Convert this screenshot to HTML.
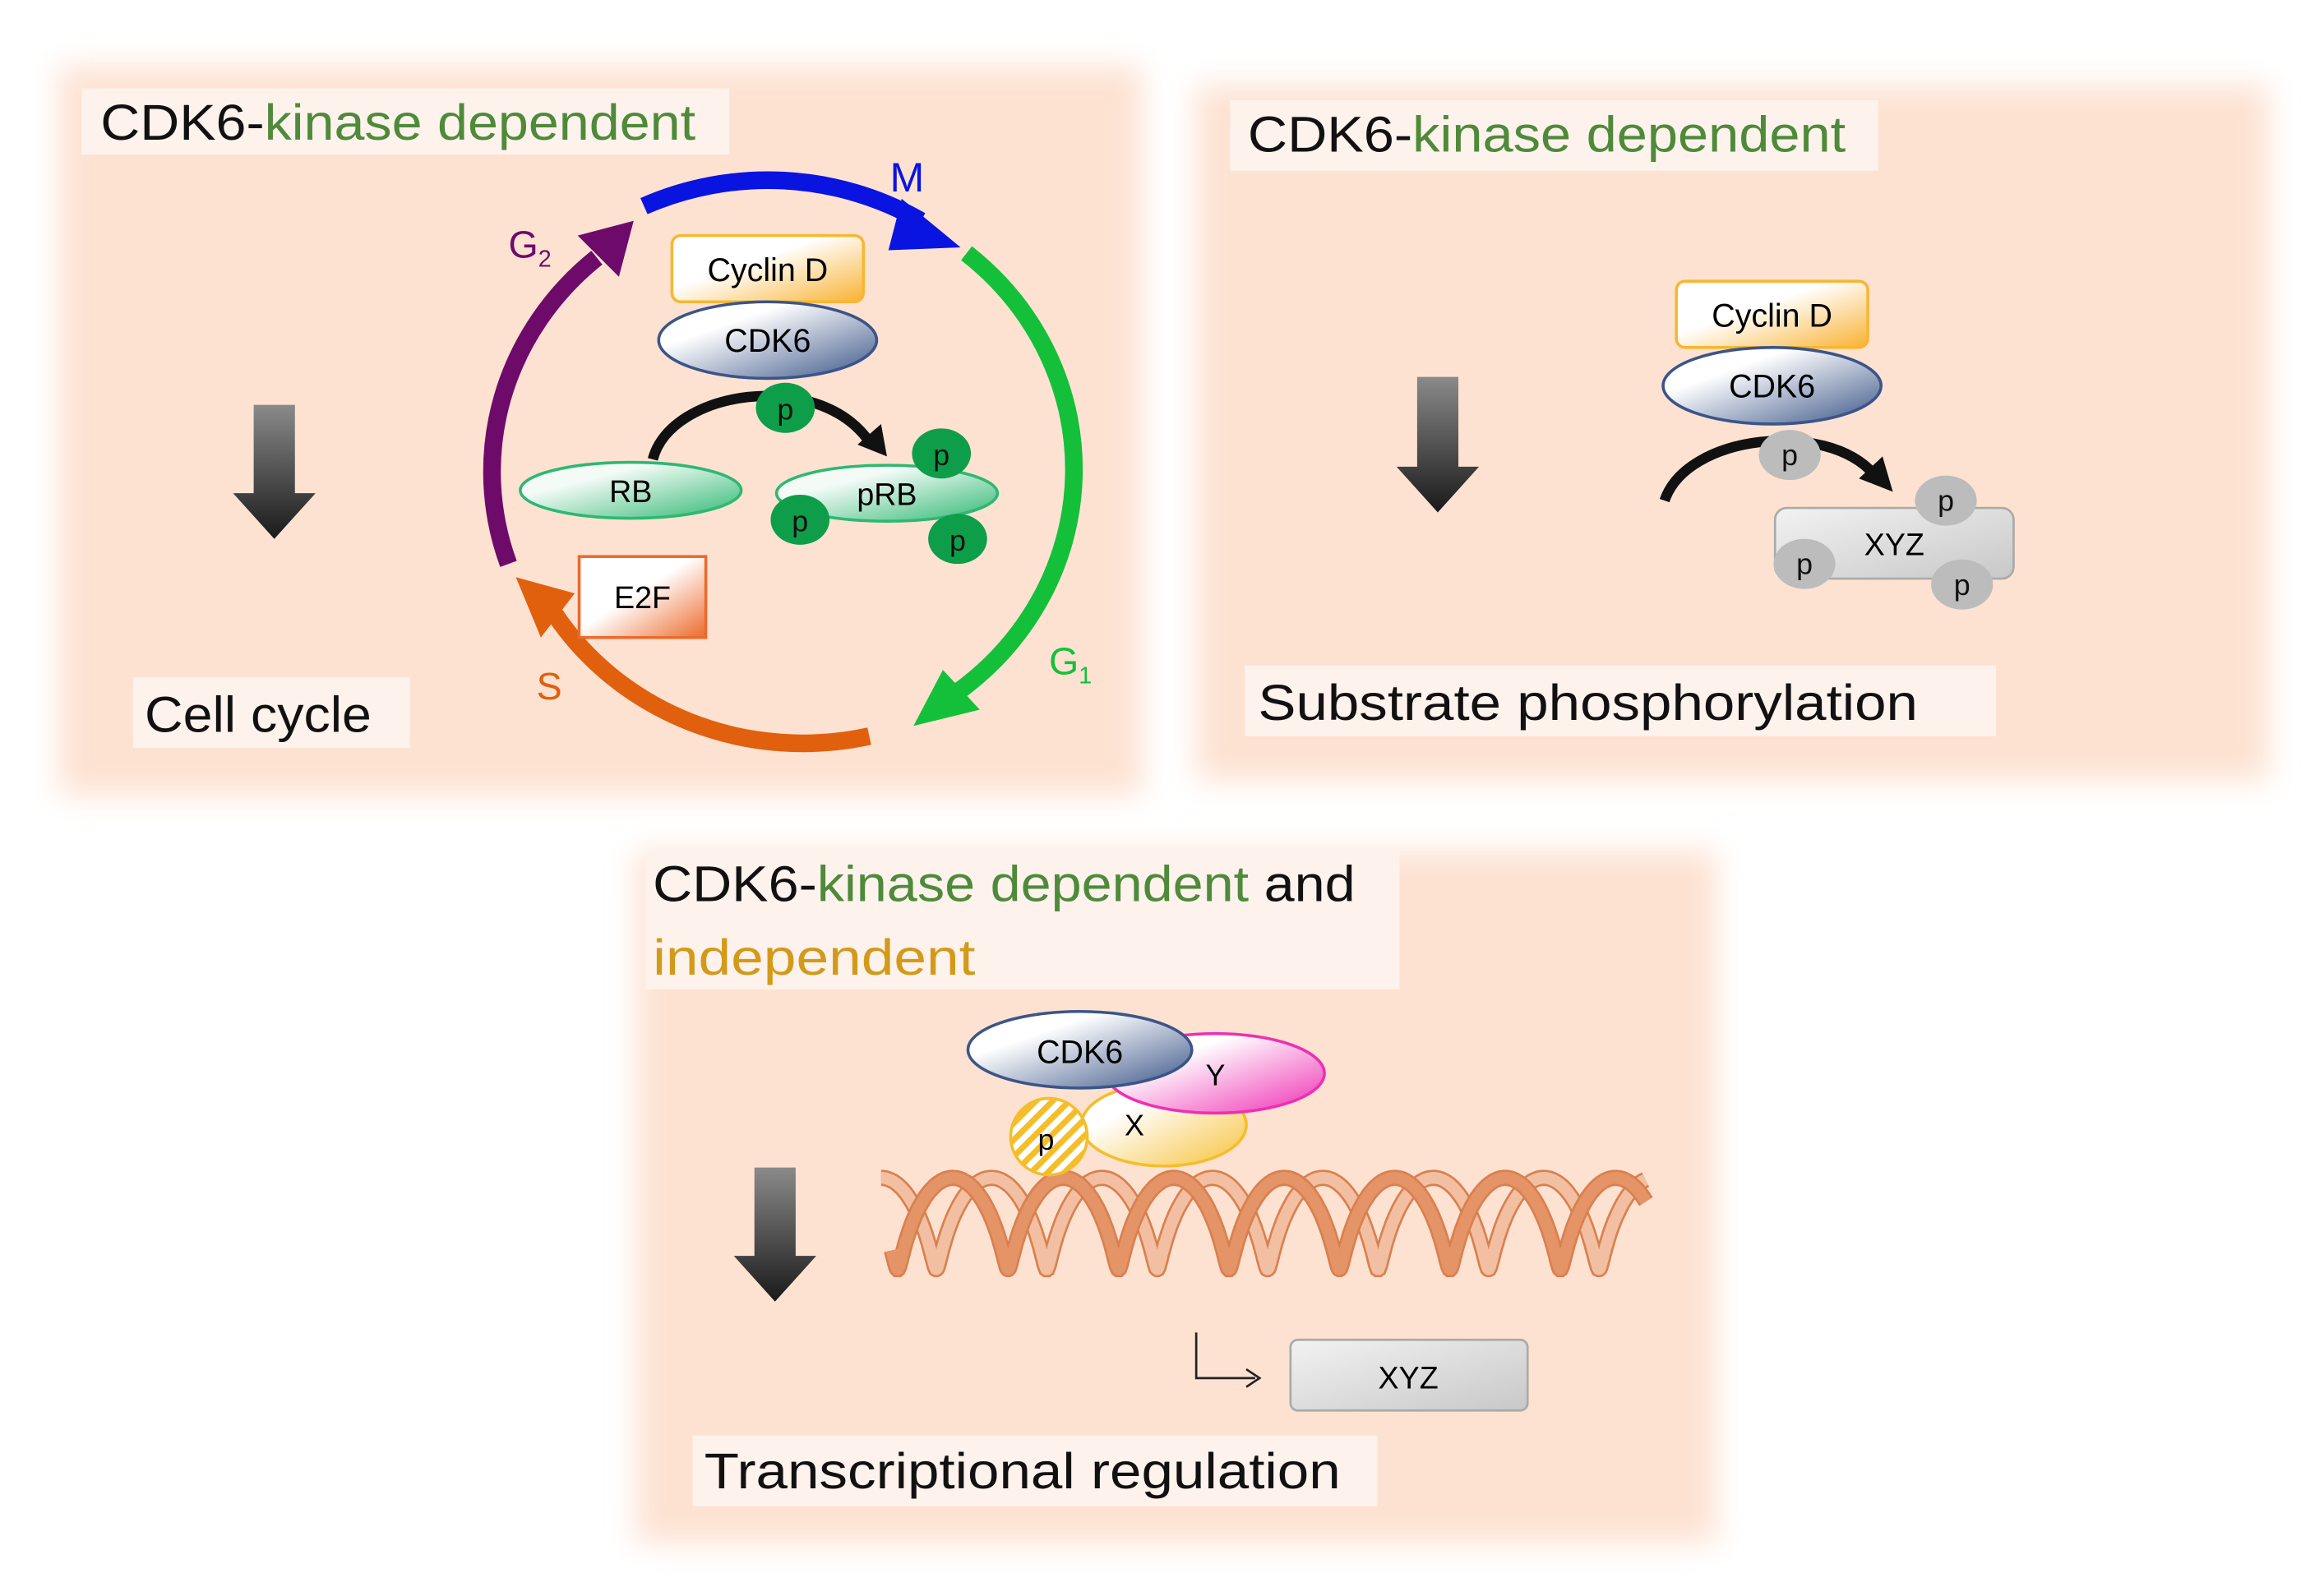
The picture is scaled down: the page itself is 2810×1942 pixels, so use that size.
<!DOCTYPE html>
<html><head><meta charset="utf-8"><style>
html,body{margin:0;padding:0;background:#fff;}
svg{display:block;}
text{font-family:"Liberation Sans",sans-serif;}
</style></head><body>
<svg id="s" width="2810" height="1942" viewBox="0 0 1568 1084" xmlns="http://www.w3.org/2000/svg">
<defs>
<filter id="blur" x="-10%" y="-10%" width="120%" height="120%"><feGaussianBlur stdDeviation="10"/></filter>
<linearGradient id="arrowG" x1="0" y1="0" x2="0" y2="1"><stop offset="0" stop-color="#8a8a8a"/><stop offset="1" stop-color="#1a1a1a"/></linearGradient>
<linearGradient id="cyc" x1="0" y1="0" x2="1" y2="1"><stop offset="0.4" stop-color="#fff"/><stop offset="1" stop-color="#f9b233"/></linearGradient>
<linearGradient id="cdk" x1="0" y1="0" x2="1" y2="1"><stop offset="0.3" stop-color="#fff"/><stop offset="1" stop-color="#3b5588"/></linearGradient>
<linearGradient id="rb" x1="0" y1="0" x2="1" y2="1"><stop offset="0.3" stop-color="#f4fbf7"/><stop offset="1" stop-color="#2eb872"/></linearGradient>
<linearGradient id="e2f" x1="0" y1="0" x2="1" y2="1"><stop offset="0.45" stop-color="#fff"/><stop offset="1" stop-color="#ec6a2c"/></linearGradient>
<linearGradient id="grey" x1="0" y1="0" x2="1" y2="1"><stop offset="0" stop-color="#f2f2f2"/><stop offset="1" stop-color="#c8c8c8"/></linearGradient>
<linearGradient id="yG" x1="0" y1="0" x2="1" y2="1"><stop offset="0.3" stop-color="#fff"/><stop offset="1" stop-color="#ee2fb4"/></linearGradient>
<linearGradient id="xG" x1="0" y1="0" x2="1" y2="1"><stop offset="0.3" stop-color="#fff"/><stop offset="1" stop-color="#f7c23a"/></linearGradient>
<pattern id="hatch" width="8" height="8" patternUnits="userSpaceOnUse" patternTransform="rotate(45)"><rect width="8" height="8" fill="#fff"/><rect width="4" height="8" fill="#f4be2a"/></pattern>
</defs>
<g filter="url(#blur)" fill="#fde2d2">
<rect x="40" y="45" width="735" height="495"/>
<rect x="812" y="58" width="728" height="472"/>
<rect x="432" y="578" width="733" height="470"/>
</g>
<g fill="#fdf2ec">
<rect x="55" y="60" width="440" height="45"/>
<rect x="90" y="460" width="188" height="48"/>
<rect x="835" y="68" width="440" height="48"/>
<rect x="845" y="452" width="510" height="48"/>
<rect x="438" y="578" width="512" height="94"/>
<rect x="470" y="975" width="465" height="48"/>
</g>
<text x="68" y="95" font-size="34" textLength="404" lengthAdjust="spacingAndGlyphs"><tspan fill="#111">CDK6-</tspan><tspan fill="#4e8a3a">kinase dependent</tspan></text>
<text x="847" y="103" font-size="34" textLength="406" lengthAdjust="spacingAndGlyphs"><tspan fill="#111">CDK6-</tspan><tspan fill="#4e8a3a">kinase dependent</tspan></text>
<text x="443" y="612" font-size="34" textLength="477" lengthAdjust="spacingAndGlyphs"><tspan fill="#111">CDK6-</tspan><tspan fill="#4e8a3a">kinase dependent</tspan><tspan fill="#111"> and</tspan></text>
<text x="443" y="662" font-size="34" fill="#d39a1a" textLength="219" lengthAdjust="spacingAndGlyphs">independent</text>
<text x="98" y="497" font-size="34" fill="#111" textLength="154" lengthAdjust="spacingAndGlyphs">Cell cycle</text>
<text x="854" y="489" font-size="34" fill="#111" textLength="448" lengthAdjust="spacingAndGlyphs">Substrate phosphorylation</text>
<text x="478" y="1011" font-size="34" fill="#111" textLength="432" lengthAdjust="spacingAndGlyphs">Transcriptional regulation</text>
<polygon points="172,275 200,275 200,335 214,335 186,366 158,335 172,335" fill="url(#arrowG)"/>
<polygon points="962,256 990,256 990,317 1004,317 976,348 948,317 962,317" fill="url(#arrowG)"/>
<polygon points="512,793 540,793 540,853 554,853 526,884 498,853 512,853" fill="url(#arrowG)"/>
<g fill="none" stroke-width="12">
<path d="M437,140 A200,190 0 0 1 625,150" stroke="#0a14e0"/>
<path d="M656,172 A200,190 0 0 1 650,470" stroke="#14c03a"/>
<path d="M590,500 A200,190 0 0 1 375,415" stroke="#e0600e"/>
<path d="M345,383 A200,190 0 0 1 405,175" stroke="#6e0a6a"/>
</g>
<polygon points="612,135 652,168 603,170" fill="#0a14e0"/>
<polygon points="640,455 620,493 665,482" fill="#14c03a"/>
<polygon points="350,392 390,403 367,433" fill="#e0600e"/>
<polygon points="392,160 430,150 420,188" fill="#6e0a6a"/>
<text x="604" y="130" font-size="28" fill="#0a14e0">M</text>
<text x="345" y="175" font-size="26" fill="#6e0a6a">G<tspan font-size="16" dy="6">2</tspan></text>
<text x="712" y="458" font-size="26" fill="#14c03a">G<tspan font-size="16" dy="6">1</tspan></text>
<text x="364" y="475" font-size="26" fill="#e0600e">S</text>
<rect x="456" y="160" width="130" height="45" rx="6" fill="url(#cyc)" stroke="#f7b733" stroke-width="2"/>
<text x="521" y="191" font-size="22" text-anchor="middle">Cyclin D</text>
<ellipse cx="521" cy="231" rx="74" ry="26" fill="url(#cdk)" stroke="#3b5588" stroke-width="2"/>
<text x="521" y="239" font-size="22" text-anchor="middle">CDK6</text>
<path d="M443,312 C455,265 555,250 590,300" fill="none" stroke="#111" stroke-width="7"/>
<polygon points="582,302 602,310 598,288" fill="#111"/>
<ellipse cx="428" cy="333" rx="75" ry="19" fill="url(#rb)" stroke="#2eb872" stroke-width="2"/>
<text x="428" y="341" font-size="21" text-anchor="middle">RB</text>
<ellipse cx="602" cy="335" rx="75" ry="19" fill="url(#rb)" stroke="#2eb872" stroke-width="2"/>
<text x="602" y="343" font-size="21" text-anchor="middle">pRB</text>
<g fill="#0e9e4a"><ellipse cx="533" cy="277" rx="20" ry="17"/><ellipse cx="639" cy="308" rx="20" ry="17"/><ellipse cx="543" cy="353" rx="20" ry="17"/><ellipse cx="650" cy="366" rx="20" ry="17"/></g>
<g font-size="20" text-anchor="middle" fill="#111"><text x="533" y="285">p</text><text x="639" y="316">p</text><text x="543" y="361">p</text><text x="650" y="374">p</text></g>
<rect x="393" y="378" width="86" height="55" fill="url(#e2f)" stroke="#ec6a2c" stroke-width="2"/>
<text x="436" y="413" font-size="21" text-anchor="middle">E2F</text>
<rect x="1138" y="191" width="130" height="45" rx="6" fill="url(#cyc)" stroke="#f7b733" stroke-width="2"/>
<text x="1203" y="222" font-size="22" text-anchor="middle">Cyclin D</text>
<ellipse cx="1203" cy="262" rx="74" ry="26" fill="url(#cdk)" stroke="#3b5588" stroke-width="2"/>
<text x="1203" y="270" font-size="22" text-anchor="middle">CDK6</text>
<path d="M1130,340 C1145,295 1240,285 1272,322" fill="none" stroke="#111" stroke-width="7"/>
<polygon points="1262,325 1285,334 1278,310" fill="#111"/>
<rect x="1205" y="345" width="162" height="48" rx="8" fill="url(#grey)" stroke="#aaa" stroke-width="1.5"/>
<text x="1286" y="377" font-size="21" text-anchor="middle">XYZ</text>
<g fill="#bcbcbc"><ellipse cx="1215" cy="309" rx="21" ry="17"/><ellipse cx="1321" cy="340" rx="21" ry="17"/><ellipse cx="1225" cy="383" rx="21" ry="17"/><ellipse cx="1332" cy="397" rx="21" ry="17"/></g>
<g font-size="20" text-anchor="middle" fill="#111"><text x="1215" y="316">p</text><text x="1321" y="347">p</text><text x="1225" y="390">p</text><text x="1332" y="404">p</text></g>
<g id="helix" fill="none" stroke-linecap="butt"></g>
<ellipse cx="790" cy="764" rx="56" ry="28" fill="url(#xG)" stroke="#f4be2a" stroke-width="2"/>
<ellipse cx="825" cy="729" rx="74" ry="27" fill="url(#yG)" stroke="#ee2fb4" stroke-width="2"/>
<ellipse cx="733" cy="713" rx="76" ry="26" fill="url(#cdk)" stroke="#3b5588" stroke-width="2"/>
<ellipse cx="712" cy="772" rx="26" ry="26" fill="url(#hatch)" stroke="#f4be2a" stroke-width="2"/>
<text x="733" y="722" font-size="22" text-anchor="middle">CDK6</text>
<text x="825" y="737" font-size="20" text-anchor="middle">Y</text>
<text x="770" y="771" font-size="20" text-anchor="middle">X</text>
<text x="710" y="781" font-size="20" text-anchor="middle">p</text>
<path d="M812,905 V936 H852" fill="none" stroke="#222" stroke-width="1.5"/>
<path d="M846,930 L855,936 L846,942" fill="none" stroke="#222" stroke-width="1.5"/>
<rect x="876" y="910" width="161" height="48" rx="5" fill="url(#grey)" stroke="#aaa" stroke-width="1.5"/>
<text x="956" y="943" font-size="21" text-anchor="middle">XYZ</text>
<script>
(function(){
var g=document.getElementById('helix');var ns='http://www.w3.org/2000/svg';
function strand(x0,ph,col,w){var d='';var k=75/(2*Math.PI);for(var t=0;t<=7.2*2*Math.PI;t+=0.05){var x=x0+k*t+9*Math.sin(t+ph);var y=831-31*Math.cos(t+ph);if(x>1118)break;d+=(d?'L':'M')+x.toFixed(1)+','+y.toFixed(1);}
var p1=document.createElementNS(ns,'path');p1.setAttribute('d',d);p1.setAttribute('stroke','#d9804f');p1.setAttribute('stroke-width',w+3);g.appendChild(p1);
var p=document.createElementNS(ns,'path');p.setAttribute('d',d);p.setAttribute('stroke',col);p.setAttribute('stroke-width',w);g.appendChild(p);}
strand(598,0,'#f2bfa2',8);strand(598,2.2,'#e49467',8);
})();
</script>
</svg>
</body></html>
